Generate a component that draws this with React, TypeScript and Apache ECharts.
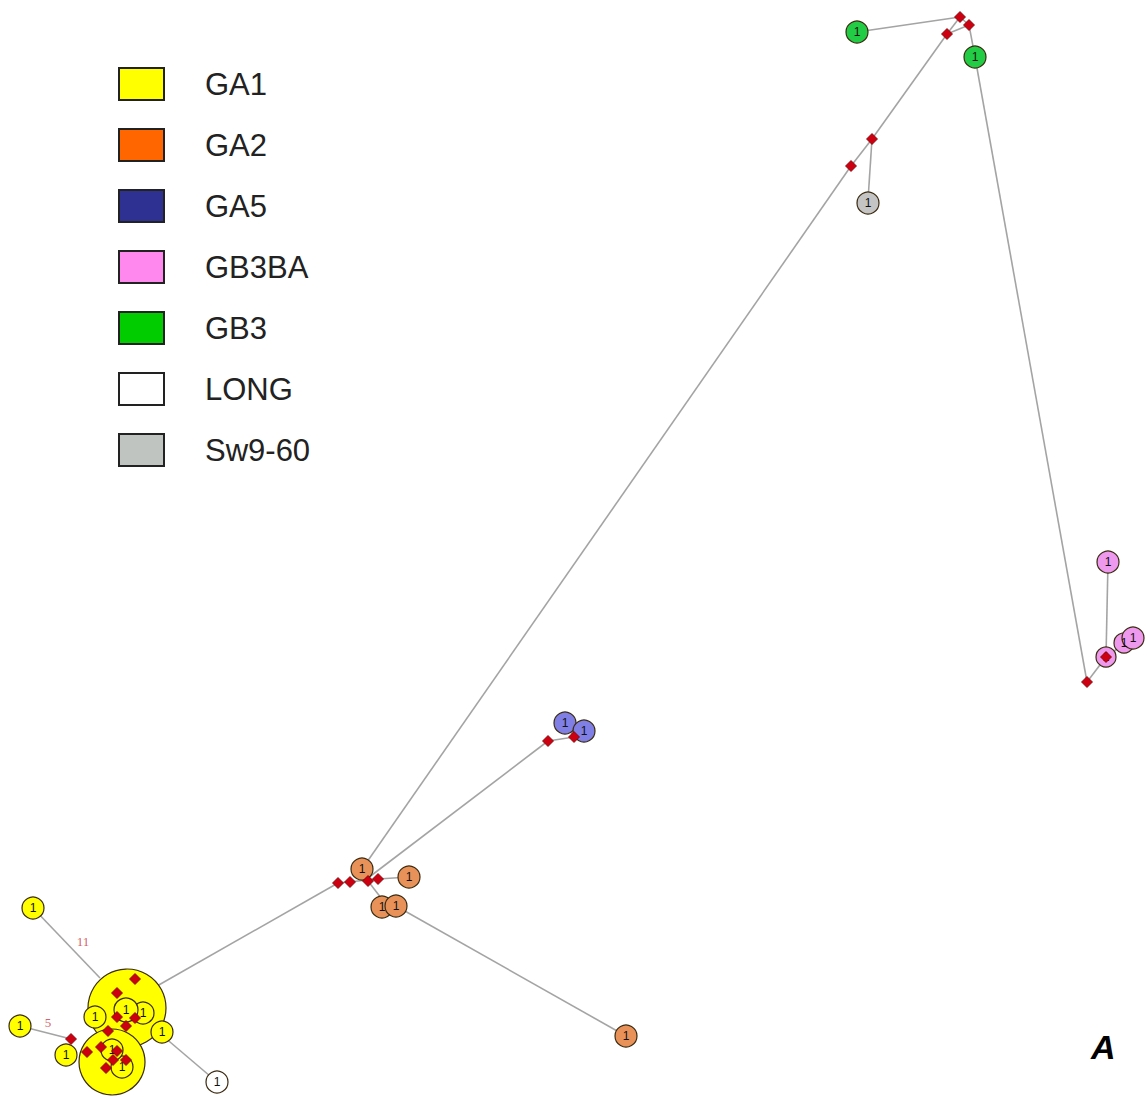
import React, { useEffect, useRef } from "react";
import * as echarts from "echarts";

// Legend / haplogroup names
const groups = ["GA1", "GA2", "GA5", "GB3BA", "GB3", "LONG", "Sw9-60"];
const legendColors = ["#FFFF00", "#FF6600", "#2E3192", "#FF88EE", "#00CC00", "#FFFFFF", "#C0C4C0"];
const nodeColors = ["#FFFF00", "#E8925A", "#7F7FE6", "#EE99EE", "#22CC44", "#FFFFFF", "#C4C4C4"];

// Network node positions [x, y, size] in layout space (x: 0..1147, y: 0..1097 downward)
const ga1Nodes = [
  [127, 1008, 78], [112, 1062, 66],
  [33, 908, 22], [20, 1026, 22], [95, 1017, 22], [143, 1013, 22], [126, 1010, 24],
  [162, 1032, 22], [66, 1055, 22], [122, 1067, 22], [112, 1050, 22]
];
const ga2Nodes = [[362, 869, 22], [409, 877, 22], [382, 907, 22], [396, 906, 22], [626, 1036, 22]];
const ga5Nodes = [[565, 723, 22], [584, 731, 22]];
const gb3baNodes = [[1108, 562, 22], [1124, 643, 20], [1133, 638, 22], [1106, 657, 20]];
const gb3Nodes = [[857, 32, 22], [975, 57, 22]];
const longNodes = [[217, 1082, 22]];
const swNodes = [[868, 203, 22]];
const groupNodes = [ga1Nodes, ga2Nodes, ga5Nodes, gb3baNodes, gb3Nodes, longNodes, swNodes];

// Median vectors (red diamonds)
const medianVectors = [
  [960, 17], [969, 25], [947, 34], [872, 139], [851, 166],
  [1087, 682], [1106, 657],
  [548, 741], [574, 737],
  [338, 883], [350, 882], [368, 881], [378, 879],
  [135, 979], [117, 993], [117, 1017], [135, 1018], [126, 1026], [108, 1031],
  [71, 1039], [87, 1052], [101, 1047], [117, 1051], [126, 1060], [113, 1060], [106, 1068]
];

// Links between nodes
const links = [
  [[857, 32], [960, 17]], [[960, 17], [969, 25]], [[947, 34], [960, 17]], [[947, 34], [969, 25]],
  [[969, 25], [975, 57]], [[975, 57], [1087, 682]],
  [[947, 34], [872, 139]], [[872, 139], [851, 166]], [[872, 139], [868, 200]],
  [[851, 166], [360, 872]],
  [[1087, 682], [1106, 657]], [[1106, 657], [1108, 562]], [[1106, 657], [1128, 641]],
  [[368, 878], [548, 741]], [[548, 741], [574, 737]], [[574, 737], [584, 731]], [[565, 723], [574, 737]],
  [[338, 883], [378, 879]], [[378, 879], [409, 877]], [[368, 881], [388, 907]],
  [[396, 906], [626, 1036]],
  [[338, 883], [150, 990]],
  [[33, 908], [100, 978]], [[20, 1026], [71, 1039]], [[150, 1025], [217, 1082]]
];

// Small mutation labels on links
const mutationLabels = [
  { text: "11", pos: [83, 941] },
  { text: "5", pos: [48, 1022] }
];

export default function App() {
  const ref = useRef<HTMLDivElement>(null);
  useEffect(() => {
    document.body.style.margin = "0";
    const chart = echarts.init(ref.current!, null, { renderer: "svg" });
    const nodeSeries = groups.map((g, i) => ({
      name: g,
      type: "scatter",
      z: 3,
      symbol: "circle",
      symbolSize: (v: number[]) => v[2],
      data: groupNodes[i],
      itemStyle: { color: nodeColors[i], borderColor: "#3a2a10", borderWidth: 1.2, opacity: 1 },
      label: {
        show: true,
        position: "inside",
        formatter: (p: any) => (p.value[2] <= 24 ? "1" : ""),
        color: "#111",
        fontSize: 12,
        fontFamily: "Liberation Sans"
      },
      emphasis: { disabled: true }
    }));
    chart.setOption({
      animation: false,
      backgroundColor: "#fff",
      grid: { left: 0, right: 0, top: 0, bottom: 0 },
      xAxis: { type: "value", min: 0, max: 1147, show: false },
      yAxis: { type: "value", min: 0, max: 1097, inverse: true, show: false },
      legend: {
        orient: "vertical",
        left: 118,
        top: 67,
        padding: 0,
        itemWidth: 45,
        itemHeight: 32,
        itemGap: 27,
        icon: "rect",
        selectedMode: false,
        textStyle: {
          fontSize: 31,
          fontFamily: "Liberation Sans",
          color: "#222",
          padding: [0, 0, 0, 36]
        },
        data: groups.map((g, i) => ({
          name: g,
          icon: "rect",
          itemStyle: { color: legendColors[i], borderColor: "#222", borderWidth: 2, opacity: 1 }
        }))
      },
      series: [
        {
          type: "lines",
          coordinateSystem: "cartesian2d",
          z: 1,
          silent: true,
          lineStyle: { color: "#A4A4A4", width: 1.6, opacity: 1 },
          data: links.map((l) => ({ coords: l }))
        },
        ...nodeSeries,
        {
          name: "median",
          type: "scatter",
          z: 5,
          symbol: "diamond",
          symbolSize: 11,
          data: medianVectors,
          itemStyle: { color: "#CC0011", borderColor: "#700", borderWidth: 0.8, opacity: 1 },
          emphasis: { disabled: true }
        },
        {
          name: "mutations",
          type: "scatter",
          z: 6,
          symbolSize: 0,
          data: mutationLabels.map((m) => ({ value: m.pos, name: m.text })),
          label: {
            show: true,
            position: "inside",
            formatter: (p: any) => p.name,
            color: "#CC3344",
            fontSize: 13,
            fontFamily: "Liberation Serif"
          }
        }
      ],
      graphic: [
        {
          type: "text",
          left: 1091,
          top: 1030,
          style: { text: "A", fontSize: 34, fontWeight: "bold", fontStyle: "italic", fontFamily: "Liberation Sans", fill: "#000" }
        }
      ]
    });
    return () => chart.dispose();
  }, []);
  return <div ref={ref} style={{ width: 1147, height: 1097 }} />;
}
